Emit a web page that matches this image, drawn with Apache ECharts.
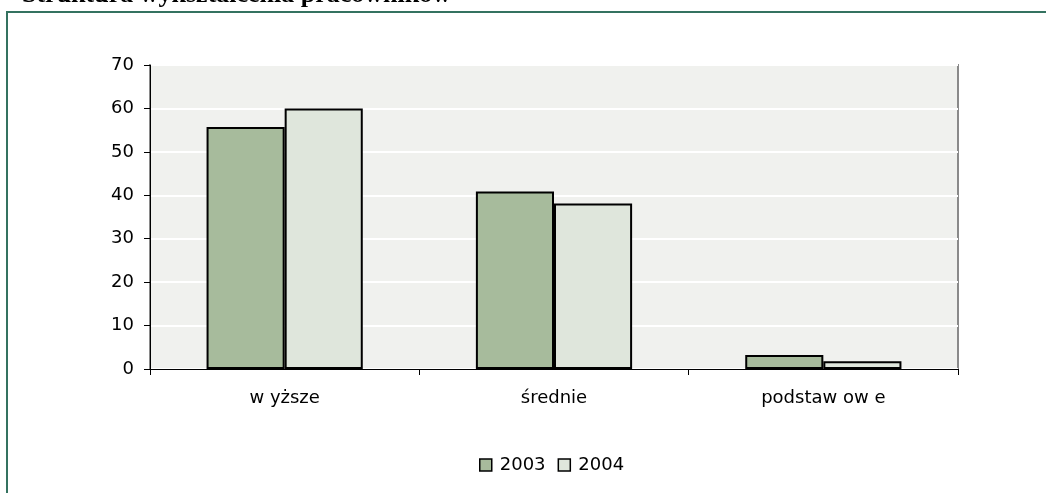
<!DOCTYPE html>
<html>
<head>
<meta charset="utf-8">
<style>
  html, body { margin: 0; padding: 0; background: #ffffff; }
  #chart { width: 1046px; height: 493px; }
</style>
<script src="https://cdn.jsdelivr.net/npm/echarts@6/dist/echarts.min.js"></script>
</head>
<body>
<div id="chart"></div>
<script>
// Education levels of employees, share in percent
const categories = ['w yższe', 'średnie', 'podstaw ow e'];
const years = ['2003', '2004'];
const values2003 = [55.7, 40.9, 3.2];
const values2004 = [60.0, 38.1, 1.8];
const yTicks = { min: 0, max: 70, interval: 10 };

const chart = echarts.init(document.getElementById('chart'), null, { renderer: 'canvas' });

const labelFont = { fontFamily: '"DejaVu Sans", Arial, sans-serif', fontSize: 18, color: '#000000' };

const barStyle = (fill) => ({ color: fill, borderColor: '#000000', borderWidth: 2 });

chart.setOption({
  animation: false,
  backgroundColor: '#ffffff',
  graphic: [
    {
      type: 'rect',
      shape: { x: 7, y: 12, width: 1100, height: 600 },
      style: { fill: 'none', stroke: '#347260', lineWidth: 2 },
      silent: true, z: 0
    },
    {
      type: 'text',
      x: 22, y: -18,
      style: {
        text: 'Struktura wykształcenia pracowników',
        font: 'bold 26px "Liberation Serif", "Times New Roman", serif',
        fill: '#000000',
        verticalAlign: 'top'
      },
      z: 10
    }
  ],
  grid: {
    left: 150, top: 65, right: 88, bottom: 124,
    show: true,
    backgroundColor: '#f0f1ee',
    borderColor: '#8a8a8a',
    borderWidth: 2
  },
  legend: {
    left: 479, top: 456, padding: 0,
    itemWidth: 12, itemHeight: 12, itemGap: 12,
    icon: 'rect',
    textStyle: Object.assign({}, labelFont, { padding: [0, 0, 0, 3] }),
    data: years.map((y) => ({
      name: y,
      itemStyle: { borderColor: '#000000', borderWidth: 1.5 }
    }))
  },
  xAxis: {
    type: 'category',
    data: categories,
    axisLine: { lineStyle: { color: '#000000', width: 1 } },
    axisTick: { show: true, length: 6, lineStyle: { color: '#000000' } },
    axisLabel: Object.assign({ margin: 20 }, labelFont),
    splitLine: { show: false }
  },
  yAxis: {
    type: 'value',
    min: yTicks.min, max: yTicks.max, interval: yTicks.interval,
    axisLine: { show: true, lineStyle: { color: '#000000', width: 1 } },
    axisTick: { show: true, length: 6, lineStyle: { color: '#000000' } },
    axisLabel: Object.assign({ margin: 16 }, labelFont),
    splitLine: { show: true, lineStyle: { color: '#ffffff', width: 2 } }
  },
  series: [
    {
      name: years[0], type: 'bar', data: values2003,
      barGap: '0%', barCategoryGap: '42%',
      itemStyle: barStyle('#a7bb9c')
    },
    {
      name: years[1], type: 'bar', data: values2004,
      itemStyle: barStyle('#dfe6dc')
    }
  ]
});
</script>
</body>
</html>
